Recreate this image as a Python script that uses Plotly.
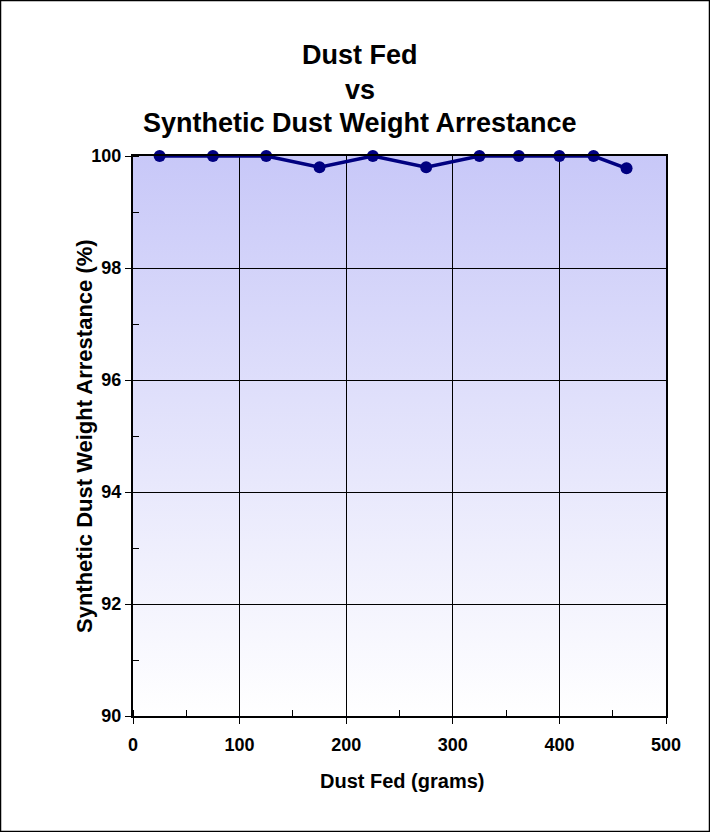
import base64
import plotly.graph_objects as go

dust_fed = [25, 75, 125, 175, 225, 275, 325, 362, 400, 432, 463]
arrestance = [100, 100, 100, 99.8, 100, 99.8, 100, 100, 100, 100, 99.78]
x_ticks = [0, 100, 200, 300, 400, 500]
y_ticks = [90, 92, 94, 96, 98, 100]
title_lines = ["Dust Fed", "vs", "Synthetic Dust Weight Arrestance"]
x_title = "Dust Fed (grams)"
y_title = "Synthetic Dust Weight Arrestance (%)"

FONT = "Liberation Sans, Arial, sans-serif"
L, R, T, B = 133, 44, 156, 116
PW, PH = 710 - L - R, 832 - T - B

svg = ('<svg xmlns="http://www.w3.org/2000/svg" width="100" height="100" preserveAspectRatio="none">'
       '<defs><linearGradient id="g" x1="0" y1="0" x2="0" y2="1">'
       '<stop offset="0" stop-color="#c8c8f8"/><stop offset="1" stop-color="#ffffff"/>'
       '</linearGradient></defs><rect width="100" height="100" fill="url(#g)"/></svg>')
bg_src = "data:image/svg+xml;base64," + base64.b64encode(svg.encode()).decode()

fig = go.Figure()

fig.add_trace(go.Scatter(
    x=dust_fed, y=arrestance, mode="lines+markers",
    line=dict(color="#000080", width=3.5),
    marker=dict(color="#000080", size=12),
    showlegend=False, cliponaxis=False,
))

fig.add_layout_image(dict(
    source=bg_src, xref="x", yref="y", x=0, y=100, sizex=500, sizey=10,
    sizing="stretch", layer="below", xanchor="left", yanchor="top",
))

fig.update_layout(
    width=710, height=832,
    margin=dict(l=L, r=R, t=T, b=B),
    paper_bgcolor="white", plot_bgcolor="rgba(0,0,0,0)",
    font=dict(family=FONT, color="black"),
)

fig.update_xaxes(
    range=[0, 500], tickvals=x_ticks, ticks="outside", ticklen=6, tickcolor="black",
    showgrid=True, gridcolor="black", gridwidth=1,
    showline=True, linecolor="black", linewidth=2, mirror=True,
    tickfont=dict(size=18, family=FONT, weight="bold"),
    ticklabelstandoff=5,
    minor=dict(dtick=50, ticks="inside", ticklen=6, tickcolor="black", showgrid=False),
    zeroline=False,
)
fig.update_yaxes(
    range=[90, 100], tickvals=y_ticks, ticks="outside", ticklen=6, tickcolor="black",
    showgrid=True, gridcolor="black", gridwidth=1,
    showline=True, linecolor="black", linewidth=2, mirror=True,
    tickfont=dict(size=18, family=FONT, weight="bold"),
    minor=dict(dtick=1, ticks="inside", ticklen=6, tickcolor="black", showgrid=False),
    zeroline=False,
)

for txt, yy in zip(title_lines, [55, 90, 123]):
    fig.add_annotation(
        text=txt, xref="paper", yref="paper", x=(360 - L) / PW, y=1 + (T - yy) / PH,
        xanchor="center", yanchor="middle", showarrow=False,
        font=dict(size=27, family=FONT, weight="bold", color="black"),
    )

fig.add_annotation(
    text=x_title, xref="paper", yref="paper", x=(402 - L) / PW, y=-(781 - (T + PH)) / PH,
    xanchor="center", yanchor="middle", showarrow=False,
    font=dict(size=20, family=FONT, weight="bold", color="black"),
)
fig.add_annotation(
    text=y_title, xref="paper", yref="paper", x=-(L - 84) / PW, y=0.5, textangle=-90,
    xanchor="center", yanchor="middle", showarrow=False,
    font=dict(size=22, family=FONT, weight="bold", color="black"),
)

fig.add_shape(type="rect", xref="paper", yref="paper",
              x0=-(L - 0.5) / PW, x1=1 + (R - 0.5) / PW, y0=-(B - 0.5) / PH, y1=1 + (T - 0.5) / PH,
              line=dict(color="black", width=1.5), layer="above")

fig.write_html("out.html", config={"displayModeBar": False},
               post_script="document.body.style.margin='0';")
